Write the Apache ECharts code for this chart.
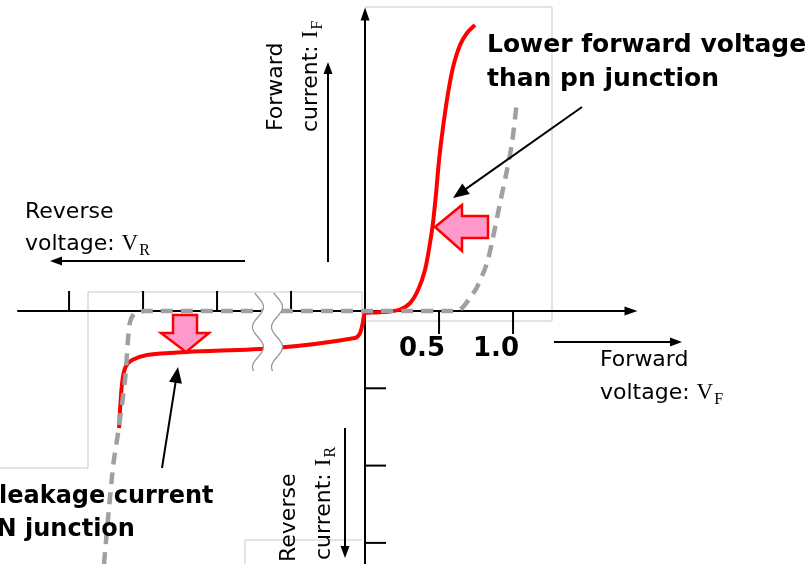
<!DOCTYPE html>
<html><head><meta charset="utf-8">
<script src="https://cdn.jsdelivr.net/npm/echarts@6/dist/echarts.min.js"></script>
<style>html,body{margin:0;padding:0;background:#fff}#c{width:811px;height:564px}</style>
</head><body><div id="c"></div>
<script>
// ---- data (volts on x, relative current units on y) ----
const xTicksNeg = [-0.5, -1.0, -1.5, -2.0];
const xTicksPos = [0.5, 1.0];
const xTickLabels = ['0.5', '1.0'];
const yTicksNeg = [-1, -2, -3];

const schottkyV = [-1.662,-1.649,-1.635,-1.615,-1.574,-1.473,-1.203,-0.608,-0.068,-0.034,-0.014,0,0.068,0.169,0.236,0.304,0.358,0.405,0.439,0.459,0.480,0.500,0.527,0.561,0.595,0.642,0.689,0.743];
const schottkyI = [-1.514,-1.087,-0.841,-0.712,-0.634,-0.569,-0.530,-0.479,-0.349,-0.285,-0.142,-0.026,-0.019,-0.006,0.019,0.103,0.272,0.530,0.880,1.138,1.527,1.953,2.380,2.820,3.157,3.441,3.596,3.700];

const pnV = [-1.764,-1.703,-1.669,-1.622,-1.601,-1.588,-1.561,-1.520,-1.473,0.622,0.662,0.709,0.757,0.824,0.865,0.912,0.959,0.993,1.027];
const pnI = [-3.273,-2.018,-1.578,-0.893,-0.349,-0.142,-0.039,-0.006,0,0,0.052,0.168,0.310,0.621,0.957,1.397,1.824,2.173,2.730];

const FONT = 'DejaVu Sans';
const SERIF = 'Liberation Serif';

function arrow(x1,y1,x2,y2,lw,hl,hw,z){
  const dx=x2-x1, dy=y2-y1, L=Math.hypot(dx,dy), ux=dx/L, uy=dy/L;
  const bx=x2-ux*hl, by=y2-uy*hl, px=-uy, py=ux;
  return [
    {type:'line', z:z, shape:{x1:x1,y1:y1,x2:bx+ux,y2:by+uy}, style:{stroke:'#000',lineWidth:lw}},
    {type:'polygon', z:z, shape:{points:[[x2,y2],[bx+px*hw/2,by+py*hw/2],[bx-px*hw/2,by-py*hw/2]]}, style:{fill:'#000'}}
  ];
}

function breakMark(){
  const left=[], right=[];
  for(let y=293;y<=372;y+=2){
    const x=258+5.5*Math.sin(2*Math.PI*(y-327)/40 - Math.PI/2);
    left.push([x,y]); right.push([x+19,y]);
  }
  const poly = left.concat(right.slice().reverse());
  return [
    {type:'polygon', z:200, shape:{points:poly}, style:{fill:'#fff', stroke:null}},
    {type:'polyline', z:201, shape:{points:left}, style:{stroke:'#999', lineWidth:1.3, fill:null}},
    {type:'polyline', z:201, shape:{points:right}, style:{stroke:'#999', lineWidth:1.3, fill:null}}
  ];
}

function subText(main, sym, sub){
  return {
    text:'{a|'+main+'}{v|'+sym+'}{s|'+sub+'}', fill:'#000', verticalAlign:'middle', align:'left',
    rich:{
      a:{font:'22px "'+FONT+'"', lineHeight:30, verticalAlign:'middle'},
      v:{font:'23px "'+SERIF+'"', lineHeight:30, verticalAlign:'middle'},
      s:{font:'16px "'+SERIF+'"', lineHeight:30, verticalAlign:'bottom', padding:[0,0,0,1]}
    }
  };
}

const boxStyle = {stroke:'#c8c8c8', lineWidth:1, fill:null};
const graphics = [
  {type:'polyline', z:0, shape:{points:[[362,311],[362,292],[88,292],[88,468],[0,468]]}, style:boxStyle},
  {type:'polyline', z:0, shape:{points:[[245,564],[245,540],[362,540]]}, style:boxStyle},
  {type:'polyline', z:0, shape:{points:[[365,321],[552,321],[552,7],[365,7]]}, style:boxStyle},
  // pink arrows
  {type:'polygon', z:150, shape:{points:[[435,227],[462,205],[462,216],[488,216],[488,238],[462,238],[462,251]]}, style:{fill:'#ff99cc', stroke:'#ff0000', lineWidth:2.5}},
  {type:'polygon', z:150, shape:{points:[[173,315],[197,315],[197,333],[209,333],[186,352],[161,333],[173,333]]}, style:{fill:'#ff99cc', stroke:'#ff0000', lineWidth:2.5}},
  // texts
  {type:'text', z:300, x:487, y:45, style:{text:'Lower forward voltage', font:'bold 25px "'+FONT+'"', fill:'#000', verticalAlign:'middle'}},
  {type:'text', z:300, x:487, y:79, style:{text:'than pn junction', font:'bold 25px "'+FONT+'"', fill:'#000', verticalAlign:'middle'}},
  {type:'text', z:300, x:-1, y:497, style:{text:'leakage current', font:'bold 24px "'+FONT+'"', fill:'#000', verticalAlign:'middle'}},
  {type:'text', z:300, x:-21, y:530, style:{text:'PN junction', font:'bold 24px "'+FONT+'"', fill:'#000', verticalAlign:'middle'}},
  {type:'text', z:300, x:25, y:212, style:{text:'Reverse', font:'22px "'+FONT+'"', fill:'#000', verticalAlign:'middle'}},
  {type:'text', z:300, x:25, y:244, style:subText('voltage: ','V','R')},
  {type:'text', z:300, x:600, y:360, style:{text:'Forward', font:'22px "'+FONT+'"', fill:'#000', verticalAlign:'middle'}},
  {type:'text', z:300, x:600, y:393, style:subText('voltage: ','V','F')},
  {type:'text', z:300, x:276, y:131, rotation:Math.PI/2, style:{text:'Forward', font:'22px "'+FONT+'"', fill:'#000', verticalAlign:'middle', align:'left'}},
  {type:'text', z:300, x:311, y:132, rotation:Math.PI/2, style:subText('current: ','I','F')},
  {type:'text', z:300, x:289, y:562, rotation:Math.PI/2, style:{text:'Reverse', font:'22px "'+FONT+'"', fill:'#000', verticalAlign:'middle', align:'left'}},
  {type:'text', z:300, x:324, y:560, rotation:Math.PI/2, style:subText('current: ','I','R')}
]
.concat(arrow(245,261,50,261,2,12,9,120))
.concat(arrow(328,262,328,62,2,12,9,120))
.concat(arrow(554,342,682,342,2,12,9,120))
.concat(arrow(345,428,345,558,2,12,9,120))
.concat(arrow(582,107,453,198,2,16,13,120))
.concat(arrow(162,468,178,367,2,16,13,120))
.concat(breakMark());

const chart = echarts.init(document.getElementById('c'), null, {renderer:'canvas'});
chart.setOption({
  animation:false,
  backgroundColor:'#fff',
  grid:{left:18, right:180, top:14, bottom:0, containLabel:false},
  xAxis:{type:'value', min:-2.345, max:1.797,
    axisLine:{show:true, onZero:true, symbol:['none','triangle'], symbolSize:[9,13], lineStyle:{color:'#000', width:2}},
    axisTick:{show:false}, axisLabel:{show:false}, splitLine:{show:false}},
  yAxis:{type:'value', min:-3.273, max:3.842,
    axisLine:{show:true, onZero:true, symbol:['none','triangle'], symbolSize:[9,13], lineStyle:{color:'#000', width:2}},
    axisTick:{show:false}, axisLabel:{show:false}, splitLine:{show:false}},
  series:[
    {type:'custom', z:1, data:xTicksNeg.map(v=>[v,0]), renderItem:function(p,api){
      const c=api.coord([api.value(0),0]);
      return {type:'line', shape:{x1:c[0],y1:c[1],x2:c[0],y2:c[1]-20}, style:{stroke:'#000',lineWidth:2}};
    }},
    {type:'custom', z:1, data:xTicksPos.map((v,i)=>[v,0,i]), renderItem:function(p,api){
      const c=api.coord([api.value(0),0]);
      return {type:'group', children:[
        {type:'line', shape:{x1:c[0],y1:c[1],x2:c[0],y2:c[1]+23}, style:{stroke:'#000',lineWidth:2}},
        {type:'text', x:c[0]-17, y:c[1]+38, style:{text:xTickLabels[api.value(2)], font:'bold 26px "'+FONT+'"', fill:'#000', align:'center', verticalAlign:'middle'}}
      ]};
    }},
    {type:'custom', z:1, data:yTicksNeg.map(v=>[0,v]), renderItem:function(p,api){
      const c=api.coord([0,api.value(1)]);
      return {type:'line', shape:{x1:c[0],y1:c[1],x2:c[0]+21,y2:c[1]}, style:{stroke:'#000',lineWidth:2}};
    }},
    {type:'line', z:3, name:'Schottky', data:schottkyV.map((v,i)=>[v,schottkyI[i]]), smooth:0.3, showSymbol:false, symbol:'none',
      lineStyle:{color:'#ff0000', width:4}},
    {type:'line', z:4, name:'pn', data:pnV.map((v,i)=>[v,pnI[i]]), smooth:0.3, showSymbol:false, symbol:'none',
      lineStyle:{color:'#a0a0a0', width:4.5, type:[12,8]}}
  ],
  graphic:graphics
});
</script></body></html>
